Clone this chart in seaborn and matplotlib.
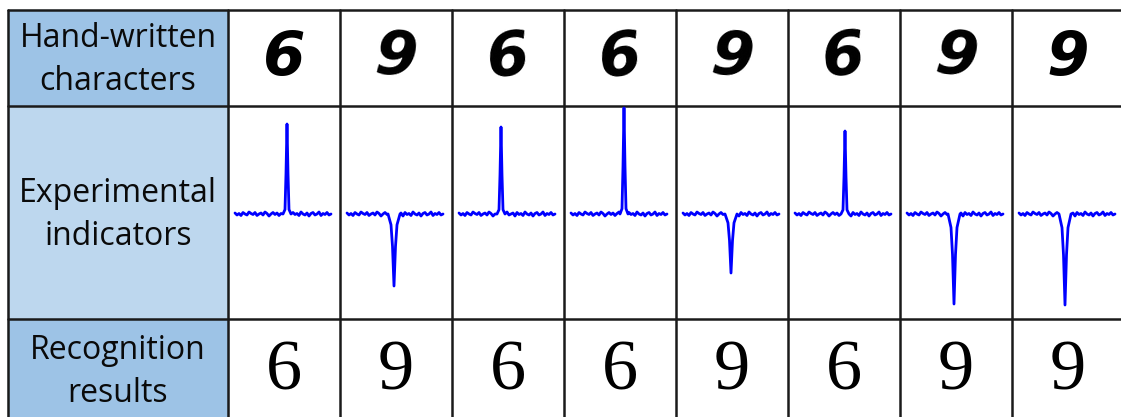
import pandas as pd
import seaborn as sns
import matplotlib.pyplot as plt
from matplotlib.patches import Rectangle

row_labels = ["Hand-written\ncharacters", "Experimental\nindicators", "Recognition\nresults"]
written_digits = ["6", "9", "6", "6", "9", "6", "9", "9"]
recognized = ["6", "9", "6", "6", "9", "6", "9", "9"]
# spike of each trace, px above (+) or below (-) the flat level
spike_height = [90, -72, 87, 106, -59, 83, -90, -91]
# where the spike sits along the trace (trace runs 0..96)
spike_pos = [52, 47, 42, 53, 48, 50, 47, 46]
# wiggle of the flat part, one value every 2 px
wiggle = [1.0, -1.0, 0.5, -1.5, 1.5, 0.0, -1.0, 2.0, 0.5, -0.5, 1.5, -1.5,
          0.0, 1.0, -1.0, 2.0, 0.5, -2.0, 0.0, 1.5, -0.5, 1.0, -1.5, 0.5,
          2.0, -1.0, 0.0, 1.0, -2.0, 1.5, -0.5, 0.5, -1.5, 2.0, 0.0, -1.0,
          1.0, -2.0, 0.5, 1.5, -1.0, 0.0, 2.0, -1.5, 0.5, -0.5, 1.5, -1.0, 0.0]
up_offsets = [-4, -2, -1, 0, 1, 2, 4]
up_shape = [0.0, 0.05, 0.45, 1.0, 0.45, 0.05, 0.0]
down_offsets = [-6, -3, -1.5, 0, 1.5, 3, 6]
down_shape = [0.0, 0.15, 0.45, 1.0, 0.45, 0.15, 0.0]

W, H = 1121, 417
col_edges = [8, 228, 340, 452, 564, 676, 788, 900, 1012, 1124]
row_edges = [10, 106, 319, 421]
head_colors = ["#9DC3E6", "#BDD7EE", "#9DC3E6"]
text_y = [60, 215, 372]
digit_tilt = [0, -4, 6, 6, -5, 5, -6, 0]

sns.set_theme(style="white")
fig = plt.figure(figsize=(W / 100, H / 100), dpi=100)
ax = fig.add_axes([0, 0, 1, 1])
ax.set_xlim(0, W)
ax.set_ylim(H, 0)
ax.axis("off")

for r in range(3):
    ax.add_patch(Rectangle((col_edges[0], row_edges[r]), col_edges[1] - col_edges[0],
                           row_edges[r + 1] - row_edges[r], color=head_colors[r], zorder=0))
    ax.text((col_edges[0] + col_edges[1]) / 2, text_y[r],
            row_labels[r], ha="center", va="center", fontsize=23, family="Open Sans",
            linespacing=1.4, color="#0a0a0a")

for y in row_edges:
    ax.plot([col_edges[0], col_edges[-1]], [y, y], color="#1a1a1a", lw=1.8, zorder=5)
for x in col_edges:
    ax.plot([x, x], [row_edges[0], row_edges[-1]], color="#1a1a1a", lw=1.8, zorder=5)

for i in range(8):
    cx = (col_edges[i + 1] + col_edges[i + 2]) / 2
    ax.text(cx, 58, written_digits[i], ha="center", va="center", fontsize=44,
            family="DejaVu Sans", fontweight="bold", fontstyle="italic",
            rotation=digit_tilt[i], color="black")
    ax.text(cx, 372, recognized[i], ha="center", va="center", fontsize=52,
            family="Liberation Serif", color="black")

    # trace: flat wiggly part plus the spike
    xs, ys = [], []
    if spike_height[i] > 0:
        offs, shape = up_offsets, up_shape
    else:
        offs, shape = down_offsets, down_shape
    for k, w in enumerate(wiggle):
        if abs(k * 2 - spike_pos[i]) > max(offs):
            xs.append(k * 2)
            ys.append(w)
    for o, s in zip(offs, shape):
        xs.append(spike_pos[i] + o)
        ys.append(spike_height[i] * s)
    trace = pd.DataFrame({"x": xs, "y": ys}).sort_values("x")

    x0 = col_edges[i + 1]
    inset = fig.add_axes([x0 / W, 1 - row_edges[2] / H, 112 / W, (row_edges[2] - row_edges[1]) / H])
    sns.lineplot(data=trace, x="x", y="y", ax=inset, color="#0000ff", lw=2,
                 estimator=None, sort=False)
    inset.set_xlim(-7, 105)
    inset.set_ylim(-105, 108)
    inset.axis("off")

fig.savefig("out.png", dpi=100)
